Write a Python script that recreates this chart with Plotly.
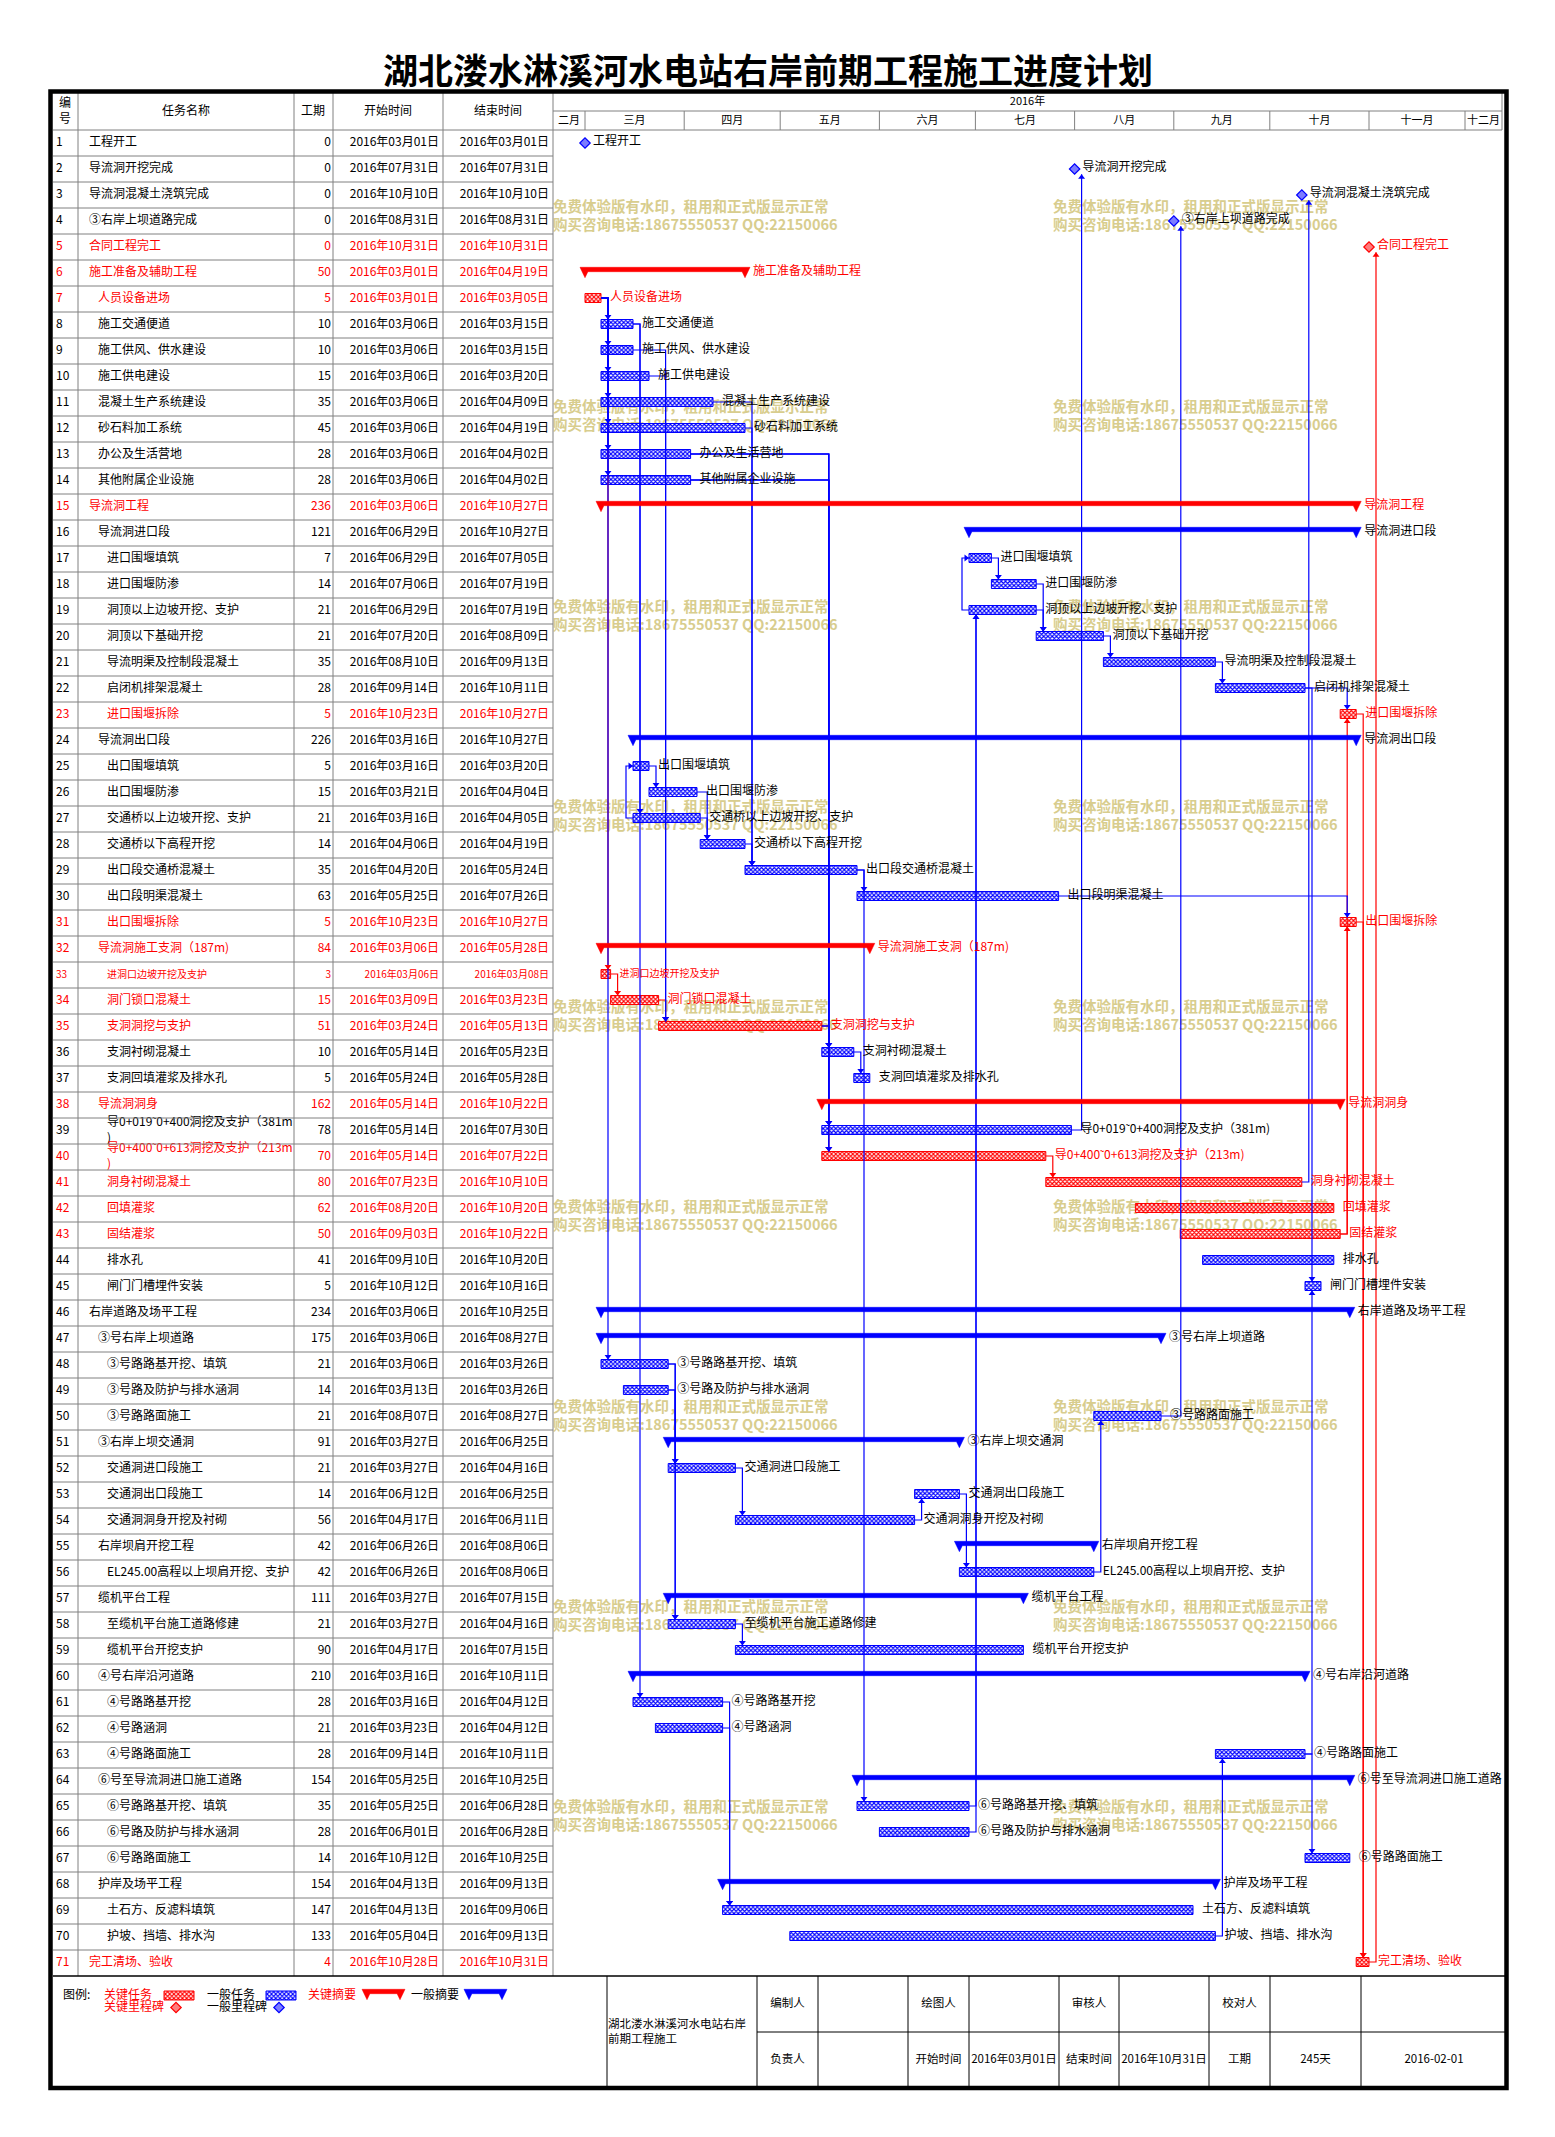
import plotly.graph_objects as go
from datetime import datetime, timedelta

# ---------------- DATA ----------------
title_text = "湖北溇水淋溪河水电站右岸前期工程施工进度计划"

task_names = [
    "工程开工", "导流洞开挖完成", "导流洞混凝土浇筑完成", "③右岸上坝道路完成", "合同工程完工",
    "施工准备及辅助工程", "人员设备进场", "施工交通便道", "施工供风、供水建设", "施工供电建设",
    "混凝土生产系统建设", "砂石料加工系统", "办公及生活营地", "其他附属企业设施", "导流洞工程",
    "导流洞进口段", "进口围堰填筑", "进口围堰防渗", "洞顶以上边坡开挖、支护", "洞顶以下基础开挖",
    "导流明渠及控制段混凝土", "启闭机排架混凝土", "进口围堰拆除", "导流洞出口段", "出口围堰填筑",
    "出口围堰防渗", "交通桥以上边坡开挖、支护", "交通桥以下高程开挖", "出口段交通桥混凝土", "出口段明渠混凝土",
    "出口围堰拆除", "导流洞施工支洞（187m)", "进洞口边坡开挖及支护", "洞门锁口混凝土", "支洞洞挖与支护",
    "支洞衬砌混凝土", "支洞回填灌浆及排水孔", "导流洞洞身", "导0+019˜0+400洞挖及支护（381m)", "导0+400˜0+613洞挖及支护（213m)",
    "洞身衬砌混凝土", "回填灌浆", "固结灌浆", "排水孔", "闸门门槽埋件安装",
    "右岸道路及场平工程", "③号右岸上坝道路", "③号路路基开挖、填筑", "③号路及防护与排水涵洞", "③号路路面施工",
    "③右岸上坝交通洞", "交通洞进口段施工", "交通洞出口段施工", "交通洞洞身开挖及衬砌", "右岸坝肩开挖工程",
    "EL245.00高程以上坝肩开挖、支护", "缆机平台工程", "至缆机平台施工道路修建", "缆机平台开挖支护", "④号右岸沿河道路",
    "④号路路基开挖", "④号路涵洞", "④号路路面施工", "⑥号至导流洞进口施工道路", "⑥号路路基开挖、填筑",
    "⑥号路及防护与排水涵洞", "⑥号路路面施工", "护岸及场平工程", "土石方、反滤料填筑", "护坡、挡墙、排水沟",
    "完工清场、验收",
]
durations = [0, 0, 0, 0, 0, 50, 5, 10, 10, 15, 35, 45, 28, 28, 236, 121, 7, 14, 21, 21,
             35, 28, 5, 226, 5, 15, 21, 14, 35, 63, 5, 84, 3, 15, 51, 10, 5, 162, 78, 70,
             80, 62, 50, 41, 5, 234, 175, 21, 14, 21, 91, 21, 14, 56, 42, 42, 111, 21, 90, 210,
             28, 21, 28, 154, 35, 28, 14, 154, 147, 133, 4]
start_dates = ["03-01", "07-31", "10-10", "08-31", "10-31", "03-01", "03-01", "03-06", "03-06", "03-06",
               "03-06", "03-06", "03-06", "03-06", "03-06", "06-29", "06-29", "07-06", "06-29", "07-20",
               "08-10", "09-14", "10-23", "03-16", "03-16", "03-21", "03-16", "04-06", "04-20", "05-25",
               "10-23", "03-06", "03-06", "03-09", "03-24", "05-14", "05-24", "05-14", "05-14", "05-14",
               "07-23", "08-20", "09-03", "09-10", "10-12", "03-06", "03-06", "03-06", "03-13", "08-07",
               "03-27", "03-27", "06-12", "04-17", "06-26", "06-26", "03-27", "03-27", "04-17", "03-16",
               "03-16", "03-23", "09-14", "05-25", "05-25", "06-01", "10-12", "04-13", "04-13", "05-04",
               "10-28"]
end_dates = ["03-01", "07-31", "10-10", "08-31", "10-31", "04-19", "03-05", "03-15", "03-15", "03-20",
             "04-09", "04-19", "04-02", "04-02", "10-27", "10-27", "07-05", "07-19", "07-19", "08-09",
             "09-13", "10-11", "10-27", "10-27", "03-20", "04-04", "04-05", "04-19", "05-24", "07-26",
             "10-27", "05-28", "03-08", "03-23", "05-13", "05-23", "05-28", "10-22", "07-30", "07-22",
             "10-10", "10-20", "10-22", "10-20", "10-16", "10-25", "08-27", "03-26", "03-26", "08-27",
             "06-25", "04-16", "06-25", "06-11", "08-06", "08-06", "07-15", "04-16", "07-15", "10-11",
             "04-12", "04-12", "10-11", "10-25", "06-28", "06-28", "10-25", "09-13", "09-06", "09-13",
             "10-31"]
outline_levels = [1, 1, 1, 1, 1, 1, 2, 2, 2, 2, 2, 2, 2, 2, 1, 2, 3, 3, 3, 3,
                  3, 3, 3, 2, 3, 3, 3, 3, 3, 3, 3, 2, 3, 3, 3, 3, 3, 2, 3, 3,
                  3, 3, 3, 3, 3, 1, 2, 3, 3, 3, 2, 3, 3, 3, 2, 3, 2, 3, 3, 2,
                  3, 3, 3, 2, 3, 3, 3, 2, 3, 3, 1]
summary_rows = [6, 15, 16, 24, 32, 38, 46, 47, 51, 55, 57, 60, 64, 68]
milestone_rows = [1, 2, 3, 4, 5]
critical_rows = [5, 6, 7, 15, 23, 31, 32, 33, 34, 35, 38, 40, 41, 42, 43, 71]
small_font_rows = [33]

# finish-to-start links (predecessor -> successor)
fs_pred = [7, 7, 7, 7, 7, 7, 7, 7, 7, 8, 8, 9, 10, 11, 12, 13, 13, 13, 14, 14, 14,
           17, 18, 19, 20, 21, 22, 22, 25, 26, 27, 28, 29, 29, 30, 43, 43, 23, 31, 71,
           33, 34, 35, 35, 35, 36, 39, 40, 41, 48, 48, 49, 49, 52, 54, 53, 56, 50,
           58, 61, 62, 63, 63, 65, 66, 70]
fs_succ = [8, 9, 10, 11, 12, 13, 14, 33, 48, 27, 61, 35, 35, 29, 29, 36, 39, 40, 36, 39, 40,
           18, 20, 20, 21, 22, 23, 45, 26, 28, 28, 29, 30, 65, 31, 23, 31, 71, 71, 5,
           34, 35, 36, 39, 40, 37, 2, 41, 3, 52, 58, 52, 58, 54, 53, 56, 50, 4,
           59, 69, 69, 45, 67, 19, 19, 63]
# start-to-start links
ss_pred = [27, 19]
ss_succ = [25, 17]

month_names = ["二月", "三月", "四月", "五月", "六月", "七月", "八月", "九月", "十月", "十一月", "十二月"]
year_label = "2016年"
header_labels = ["编<br>号", "任务名称", "工期", "开始时间", "结束时间"]

legend_labels = ["图例:", "关键任务", "关键里程碑", "一般任务", "一般里程碑", "关键摘要", "一般摘要"]
footer_top = ["编制人", "", "绘图人", "", "审核人", "", "校对人", "", ""]
footer_bottom = ["负责人", "", "开始时间", "2016年03月01日", "结束时间", "2016年10月31日", "工期", "245天", "2016-02-01"]
project_label = "湖北溇水淋溪河水电站右岸<br>前期工程施工"
watermark_lines = ["免费体验版有水印，租用和正式版显示正常", "购买咨询电话:18675550537 QQ:22150066"]

# ---------------- GEOMETRY / STYLE ----------------
W, H = 1555, 2137
ROW0_PY, ROW_H = 143.0, 26.0
MAR1_PX, DAY_PX = 585.0, 3.2
FONT = "Noto Sans CJK SC"
RED, BLUE, GRAY = "#FF0000", "#0000FF", "#808080"
WM_COLOR = "#D8CD8E"


def row_of(py):
    return 1 + (py - ROW0_PY) / ROW_H


def date_of(px):
    return datetime(2016, 3, 1) + timedelta(days=(px - MAR1_PX) / DAY_PX)


def dpx(n):
    return timedelta(days=n / DAY_PX)


def rpx(n):
    return n / ROW_H


def py_paper(py):
    return 1 - py / H


N = len(task_names)
rows = list(range(1, N + 1))
sd = {r: datetime.strptime("2016-" + start_dates[r - 1], "%Y-%m-%d") for r in rows}
ed = {r: datetime.strptime("2016-" + end_dates[r - 1], "%Y-%m-%d") + timedelta(days=1) for r in rows}
crit = set(critical_rows)
has_pred = set(fs_succ) | set(ss_succ)
mx = {r: (ed[r] if r in has_pred else sd[r]) for r in milestone_rows}


def fmt_date(dt):
    return f"{dt.year}年{dt.month:02d}月{dt.day:02d}日"


fig = go.Figure()

# ---------- watermark (base canvas, beneath gantt) ----------
wm_x, wm_y1, wm_y2 = [], [], []
for k in range(9):
    for x0 in (553, 1053):
        wm_x.append(x0)
        wm_y1.append(row_of(208 + 200 * k))
        wm_y2.append(row_of(226 + 200 * k))
for ys, txt in ((wm_y1, watermark_lines[0]), (wm_y2, watermark_lines[1])):
    fig.add_trace(go.Scatter(x=wm_x, y=ys, mode="text", text=[txt] * len(wm_x),
                             textposition="middle right",
                             textfont=dict(family=FONT, size=14.5, color=WM_COLOR, weight="bold"),
                             xaxis="x", yaxis="y", hoverinfo="skip", showlegend=False))

# ---------- table text ----------
t_color = [RED if r in crit else "black" for r in rows]
t_size = [10 if r in small_font_rows else 12 for r in rows]


def wrap(n):
    return n if len(n) <= 22 else n[:-1] + "<br>" + n[-1]


cols = [
    ([56] * N, [str(r) for r in rows], "middle right"),
    ([89 + 9 * (outline_levels[r - 1] - 1) for r in rows], [wrap(task_names[r - 1]) for r in rows], "middle right"),
    ([331] * N, [str(v) for v in durations], "middle left"),
    ([439] * N, [fmt_date(sd[r]) for r in rows], "middle left"),
    ([549] * N, [fmt_date(ed[r] - timedelta(days=1)) for r in rows], "middle left"),
]
for xs, txt, pos in cols:
    fig.add_trace(go.Scatter(x=xs, y=rows, mode="text", text=txt, textposition=pos,
                             textfont=dict(family=FONT, size=t_size, color=t_color),
                             xaxis="x", yaxis="y", hoverinfo="skip", showlegend=False))

# header
hdr_x = [65, 186, 313, 388, 498]
fig.add_trace(go.Scatter(x=hdr_x, y=[row_of(112)] * 5, mode="text", text=header_labels,
                         textposition="middle center", textfont=dict(family=FONT, size=12, color="black"),
                         xaxis="x", yaxis="y", hoverinfo="skip", showlegend=False))
fig.add_trace(go.Scatter(x=[1027.5], y=[row_of(102)], mode="text", text=[year_label],
                         textposition="middle center", textfont=dict(family=FONT, size=11, color="black"),
                         xaxis="x", yaxis="y", hoverinfo="skip", showlegend=False))

# month labels on the date axis
vis0, vis1 = date_of(553), date_of(1502)
m_x = []
for i, m in enumerate(range(2, 13)):
    a = max(datetime(2016, m, 1), vis0)
    b = min(datetime(2016, m + 1, 1) if m < 12 else datetime(2017, 1, 1), vis1)
    m_x.append(a + (b - a) / 2)
fig.add_trace(go.Scatter(x=m_x, y=[row_of(121)] * len(m_x), mode="text", text=month_names,
                         textposition="middle center", textfont=dict(family=FONT, size=11, color="black"),
                         xaxis="x2", yaxis="y", hoverinfo="skip", showlegend=False))

# ---------- links ----------
TASK_OFF = -1.0
TASK_HALF = 4.5
ARROW_DX = 7.0


def succ_x(r):
    return mx[r] if r in mx else sd[r]


def pred_end_x(r):
    return mx[r] + dpx(5) if r in mx else ed[r]


arrows = {RED: {"triangle-down": ([], []), "triangle-up": ([], []), "triangle-right": ([], [])},
          BLUE: {"triangle-down": ([], []), "triangle-up": ([], []), "triangle-right": ([], [])}}
lines = {RED: ([], []), BLUE: ([], [])}
for p, s in zip(fs_pred, fs_succ):
    c = RED if (p in crit and s in crit) else BLUE
    xe = pred_end_x(p)
    yp = p + rpx(TASK_OFF)
    xa = succ_x(s) + dpx(ARROW_DX)
    half = 5.2 if s in mx else TASK_HALF
    yc = s + (0 if s in mx else rpx(TASK_OFF))
    if s > p:
        yt = yc - rpx(half)
        sym, ya = "triangle-down", yt - rpx(3)
    else:
        yt = yc + rpx(half)
        sym, ya = "triangle-up", yt + rpx(3)
    lines[c][0].extend([xe, xa, xa, None])
    lines[c][1].extend([yp, yp, yt, None])
    arrows[c][sym][0].append(xa)
    arrows[c][sym][1].append(ya)
for p, s in zip(ss_pred, ss_succ):
    c = RED if (p in crit and s in crit) else BLUE
    xl = sd[p] - dpx(ARROW_DX)
    yp = p + rpx(TASK_OFF)
    ys = s + rpx(TASK_OFF)
    lines[c][0].extend([sd[p], xl, xl, sd[s], None])
    lines[c][1].extend([yp, yp, ys, ys, None])
    arrows[c]["triangle-right"][0].append(sd[s] - dpx(3))
    arrows[c]["triangle-right"][1].append(ys)

for c in (RED, BLUE):
    fig.add_trace(go.Scatter(x=lines[c][0], y=lines[c][1], mode="lines",
                             line=dict(color=c, width=1.2), xaxis="x2", yaxis="y",
                             hoverinfo="skip", showlegend=False))
for c in (RED, BLUE):
    for sym, (ax, ay) in arrows[c].items():
        if ax:
            fig.add_trace(go.Scatter(x=ax, y=ay, mode="markers",
                                     marker=dict(symbol=sym, size=6, color=c, line=dict(width=0)),
                                     xaxis="x2", yaxis="y", hoverinfo="skip", showlegend=False))

# ---------- task bars ----------
PATTERN = dict(shape="x", size=3, solidity=0.6, bgcolor="white", fillmode="replace")
task_rows = [r for r in rows if r not in summary_rows and r not in milestone_rows]
for c, sel in ((BLUE, [r for r in task_rows if r not in crit]), (RED, [r for r in task_rows if r in crit])):
    fig.add_trace(go.Bar(
        orientation="h", y=[r + rpx(TASK_OFF) for r in sel],
        base=[sd[r].strftime("%Y-%m-%d") for r in sel],
        x=[(ed[r] - sd[r]).total_seconds() * 1000 for r in sel],
        width=rpx(2 * TASK_HALF), xaxis="x2", yaxis="y",
        marker=dict(color=c, line=dict(color=c, width=1), pattern=dict(PATTERN, fgcolor=c)),
        hoverinfo="skip", showlegend=False))

# ---------- summary bars ----------
S_TOP, S_BB, S_TB, S_HW = -5.7, -1.3, 4.7, 5.0
f = (S_BB - S_TOP) / (S_TB - S_TOP)


def summary_poly(s, e, r, xfun, yfun):
    top, bb, tb = yfun(r, S_TOP), yfun(r, S_BB), yfun(r, S_TB)
    xs = [xfun(s, -S_HW), xfun(e, S_HW), xfun(e, 0), xfun(e, -S_HW * (1 - f)),
          xfun(s, S_HW * (1 - f)), xfun(s, 0), xfun(s, -S_HW), None]
    ys = [top, top, tb, bb, bb, tb, top, None]
    return xs, ys


for c, sel in ((RED, [r for r in summary_rows if r in crit]), (BLUE, [r for r in summary_rows if r not in crit])):
    X, Y = [], []
    for r in sel:
        xs, ys = summary_poly(sd[r], ed[r], r, lambda d0, o: d0 + dpx(o), lambda rr, o: rr + rpx(o))
        X += xs
        Y += ys
    fig.add_trace(go.Scatter(x=X, y=Y, mode="lines", fill="toself", fillcolor=c,
                             line=dict(color=c, width=0.5), xaxis="x2", yaxis="y",
                             hoverinfo="skip", showlegend=False))

# ---------- milestones ----------
for c, fillc, sel in ((BLUE, "#7C7CFF", [r for r in milestone_rows if r not in crit]),
                      (RED, "#FF7C7C", [r for r in milestone_rows if r in crit])):
    fig.add_trace(go.Scatter(x=[mx[r] for r in sel], y=sel, mode="markers",
                             marker=dict(symbol="diamond", size=8, color=fillc, line=dict(color=c, width=1.2)),
                             xaxis="x2", yaxis="y", hoverinfo="skip", showlegend=False))

# ---------- gantt labels ----------
lab_x, lab_y, lab_c = [], [], []
for r in rows:
    if r in mx:
        lab_x.append(mx[r] + dpx(8))
    elif r in summary_rows:
        lab_x.append(ed[r] + dpx(8))
    else:
        lab_x.append(ed[r] + dpx(9))
    lab_y.append(r + rpx(TASK_OFF))
    lab_c.append(RED if r in crit else "black")
fig.add_trace(go.Scatter(x=lab_x, y=lab_y, mode="text", text=task_names, textposition="middle right",
                         textfont=dict(family=FONT, size=[10 if r in small_font_rows else 12 for r in rows],
                                       color=lab_c),
                         xaxis="x2", yaxis="y", hoverinfo="skip", showlegend=False))

# ---------- legend ----------
LEG_Y1, LEG_Y2 = 1995.5, 2007.5
leg_text_x = [63, 104, 104, 207, 207, 308, 411]
leg_text_y = [LEG_Y1, LEG_Y1, LEG_Y2, LEG_Y1, LEG_Y2, LEG_Y1, LEG_Y1]
leg_text_c = ["black", RED, RED, "black", "black", RED, "black"]
fig.add_trace(go.Scatter(x=leg_text_x, y=[row_of(v) for v in leg_text_y], mode="text", text=legend_labels,
                         textposition="middle right", textfont=dict(family=FONT, size=12, color=leg_text_c),
                         xaxis="x", yaxis="y", hoverinfo="skip", showlegend=False))
for c, x0 in ((RED, 164), (BLUE, 266)):
    fig.add_trace(go.Bar(orientation="h", y=[row_of(1995.5)], base=[x0], x=[30], width=rpx(9),
                         xaxis="x", yaxis="y",
                         marker=dict(color=c, line=dict(color=c, width=1), pattern=dict(PATTERN, fgcolor=c)),
                         hoverinfo="skip", showlegend=False))
for c, fillc, x0 in ((RED, "#FF7C7C", 176), (BLUE, "#7C7CFF", 279)):
    fig.add_trace(go.Scatter(x=[x0], y=[row_of(2007.5)], mode="markers",
                             marker=dict(symbol="diamond", size=8, color=fillc, line=dict(color=c, width=1.2)),
                             xaxis="x", yaxis="y", hoverinfo="skip", showlegend=False))
for c, (x0, x1) in ((RED, (367, 400)), (BLUE, (469, 502))):
    base_row = row_of(1995)
    xs, ys = summary_poly(x0, x1, base_row, lambda d0, o: d0 + o, lambda rr, o: rr + rpx(o))
    fig.add_trace(go.Scatter(x=xs, y=ys, mode="lines", fill="toself", fillcolor=c,
                             line=dict(color=c, width=0.5), xaxis="x", yaxis="y",
                             hoverinfo="skip", showlegend=False))

# ---------- footer ----------
fx = [757, 818, 908, 969, 1059, 1119, 1209, 1270, 1361, 1507]
fcx = [(fx[i] + fx[i + 1]) / 2 for i in range(len(fx) - 1)]
fig.add_trace(go.Scatter(x=fcx + fcx, y=[row_of(2004)] * 9 + [row_of(2060)] * 9, mode="text",
                         text=footer_top + footer_bottom, textposition="middle center",
                         textfont=dict(family=FONT, size=11.5, color="black"),
                         xaxis="x", yaxis="y", hoverinfo="skip", showlegend=False))
fig.add_trace(go.Scatter(x=[608], y=[row_of(2033)], mode="text", text=[project_label],
                         textposition="middle right", textfont=dict(family=FONT, size=11.5, color="black"),
                         xaxis="x", yaxis="y", hoverinfo="skip", showlegend=False))

# ---------- shapes (grid / frame) ----------
shapes = []


def hline(y, x0, x1, color=GRAY, w=1):
    shapes.append(dict(type="line", xref="x", yref="paper", x0=x0, x1=x1, y0=py_paper(y), y1=py_paper(y),
                       line=dict(color=color, width=w)))


def vline(x, y0, y1, color=GRAY, w=1, xref="x"):
    shapes.append(dict(type="line", xref=xref, yref="paper", x0=x, x1=x, y0=py_paper(y0), y1=py_paper(y1),
                       line=dict(color=color, width=w)))


for x in (78, 294, 333, 443, 553):
    vline(x, 93, 1976)
for k in range(71):
    hline(130 + 26 * k, 53, 553)
hline(111, 553, 1502)
hline(130, 553, 1502)
vline(1502, 93, 130)
for m in range(3, 13):
    vline(datetime(2016, m, 1), 111, 130, xref="x2")
hline(1976, 53, 1507, color="black", w=1.5)
for x in fx[:-1]:
    vline(x, 1976, 2088, color="black", w=1)
vline(607, 1976, 2088, color="black", w=1)
hline(2032, 757, 1507, color="black", w=1)
shapes.append(dict(type="rect", xref="x", yref="paper", x0=50.5, x1=1506.5, y0=py_paper(91.5), y1=py_paper(2088),
                   line=dict(color="black", width=4.5)))

fig.update_layout(
    width=W, height=H, margin=dict(l=0, r=0, t=0, b=0),
    paper_bgcolor="white", plot_bgcolor="rgba(0,0,0,0)",
    showlegend=False, hovermode=False, barmode="overlay",
    shapes=shapes,
    xaxis=dict(range=[0, W], domain=[0, 1], visible=False, fixedrange=True),
    xaxis2=dict(type="date", overlaying="x", anchor="y",
                range=[date_of(0), date_of(W)], visible=False, fixedrange=True),
    yaxis=dict(range=[row_of(H), row_of(0)], domain=[0, 1], visible=False, fixedrange=True),
    annotations=[dict(text=title_text, x=768 / W, y=py_paper(68), xref="paper", yref="paper",
                      showarrow=False, xanchor="center", yanchor="middle",
                      font=dict(family=FONT, size=35, color="black", weight="bold"))],
    font=dict(family=FONT),
)

fig.write_html("out.html", config={"staticPlot": True},
               post_script="document.body.style.margin='0';document.body.style.overflow='hidden';")
